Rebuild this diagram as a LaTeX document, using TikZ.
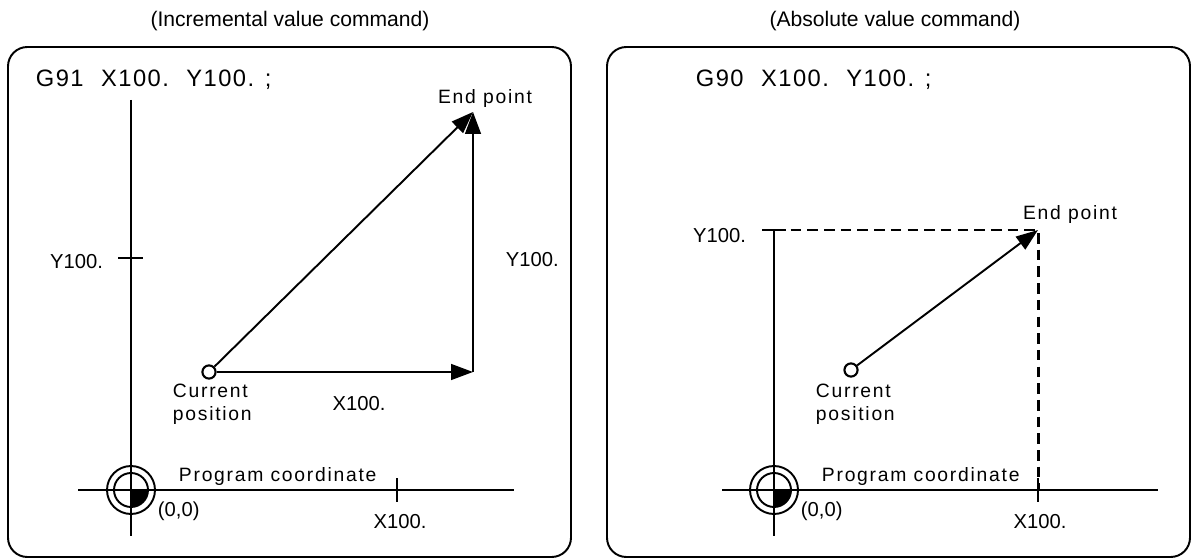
\documentclass[tikz,border=0pt]{standalone}
\usepackage{fontspec}
\setmainfont{Liberation Sans}
\usetikzlibrary{arrows.meta}
\begin{document}
\begin{tikzpicture}[x=0.02cm,y=-0.02cm,line width=1.1pt,
  panel/.style={draw,line width=1.1pt,rounded corners=11pt},
  ttl/.style={font=\fontsize{12pt}{14pt}\selectfont,inner sep=0pt},
  code/.style={font=\fontsize{13.5pt}{15pt}\selectfont\addfontfeature{LetterSpace=6},inner sep=0pt,anchor=west},
  lbl/.style={font=\fontsize{11.5pt}{13pt}\selectfont,inner sep=0pt},
  sp/.style={font=\fontsize{11pt}{13pt}\selectfont\addfontfeature{LetterSpace=9},inner sep=0pt},
  arr/.style={-{Triangle[length=12.5pt,width=9pt]},line width=1.1pt},
  dsh/.style={dash pattern=on 6pt off 3.5pt,line width=1.7pt},
  cpos/.style={circle,draw,fill=white,line width=1.2pt,minimum size=7.5pt,inner sep=0pt}]
\useasboundingbox (0,0) rectangle (1196,560);
% ---------- left panel
\node[ttl] (t1) at (290,21) {(Incremental value command)};
\draw[panel] (8,47) rectangle (571,557);
\node[code] (c1) at (35,80) {G91\hspace{10pt}X100.\hspace{10pt}Y100. ;};
\coordinate (O1) at (131,490);
\draw (131,100) -- (131,536);
\draw (78,490) -- (514,490);
\draw (118,258) -- (143,258);
\draw (397,478) -- (397,502);
\node[lbl,anchor=east] (ly1) at (104,262) {Y100.};
\node[lbl] (lx1) at (400,522) {X100.};
\draw (O1) circle (0.48cm);
\draw (O1) circle (0.34cm);
\fill (O1) -- ++(0.34cm,0) arc[start angle=0,end angle=-90,radius=0.34cm] -- cycle;
\node[lbl,anchor=west] (z1) at (157,511) {(0,0)};
\node[sp,anchor=west] (pc1) at (178,477) {Program coordinate};
\node[cpos] (cp1) at (209,372) {};
\coordinate (k1) at (473,372);
\coordinate (ep1) at (473,112);
\draw[arr] (cp1) -- (k1);
\draw[arr] (k1) -- (ep1);
\draw[arr] (cp1) -- (ep1);
\node[sp] (e1) at (485,99) {End point};
\node[lbl,anchor=west] (yl1) at (505,260) {Y100.};
\node[lbl] (xl1) at (359,404) {X100.};
\node[sp,align=left,anchor=north west] (cl1) at (172,383) {Current\\position};
% ---------- right panel
\node[ttl] (t2) at (895,21) {(Absolute value command)};
\draw[panel] (607,47) rectangle (1190,557);
\node[code] (c2) at (695,80) {G90\hspace{10pt}X100.\hspace{10pt}Y100. ;};
\coordinate (O2) at (774,490);
\draw (774,230) -- (774,536);
\draw (722,490) -- (1158,490);
\draw (762,230) -- (786,230);
\draw (1038,478) -- (1038,502);
\coordinate (ep2) at (1038,230);
\draw[dsh] (774,230) -- (ep2) -- (1038,490);
\node[lbl,anchor=east] (ly2) at (747,236) {Y100.};
\node[lbl] (lx2) at (1040,522) {X100.};
\draw (O2) circle (0.48cm);
\draw (O2) circle (0.34cm);
\fill (O2) -- ++(0.34cm,0) arc[start angle=0,end angle=-90,radius=0.34cm] -- cycle;
\node[lbl,anchor=west] (z2) at (800,511) {(0,0)};
\node[sp,anchor=west] (pc2) at (821,477) {Program coordinate};
\node[cpos] (cp2) at (851,370) {};
\draw[arr] (cp2) -- (ep2);
\node[sp] (e2) at (1070,215) {End point};
\node[sp,align=left,anchor=north west] (cl2) at (815,383) {Current\\position};
\end{tikzpicture}
\end{document}
